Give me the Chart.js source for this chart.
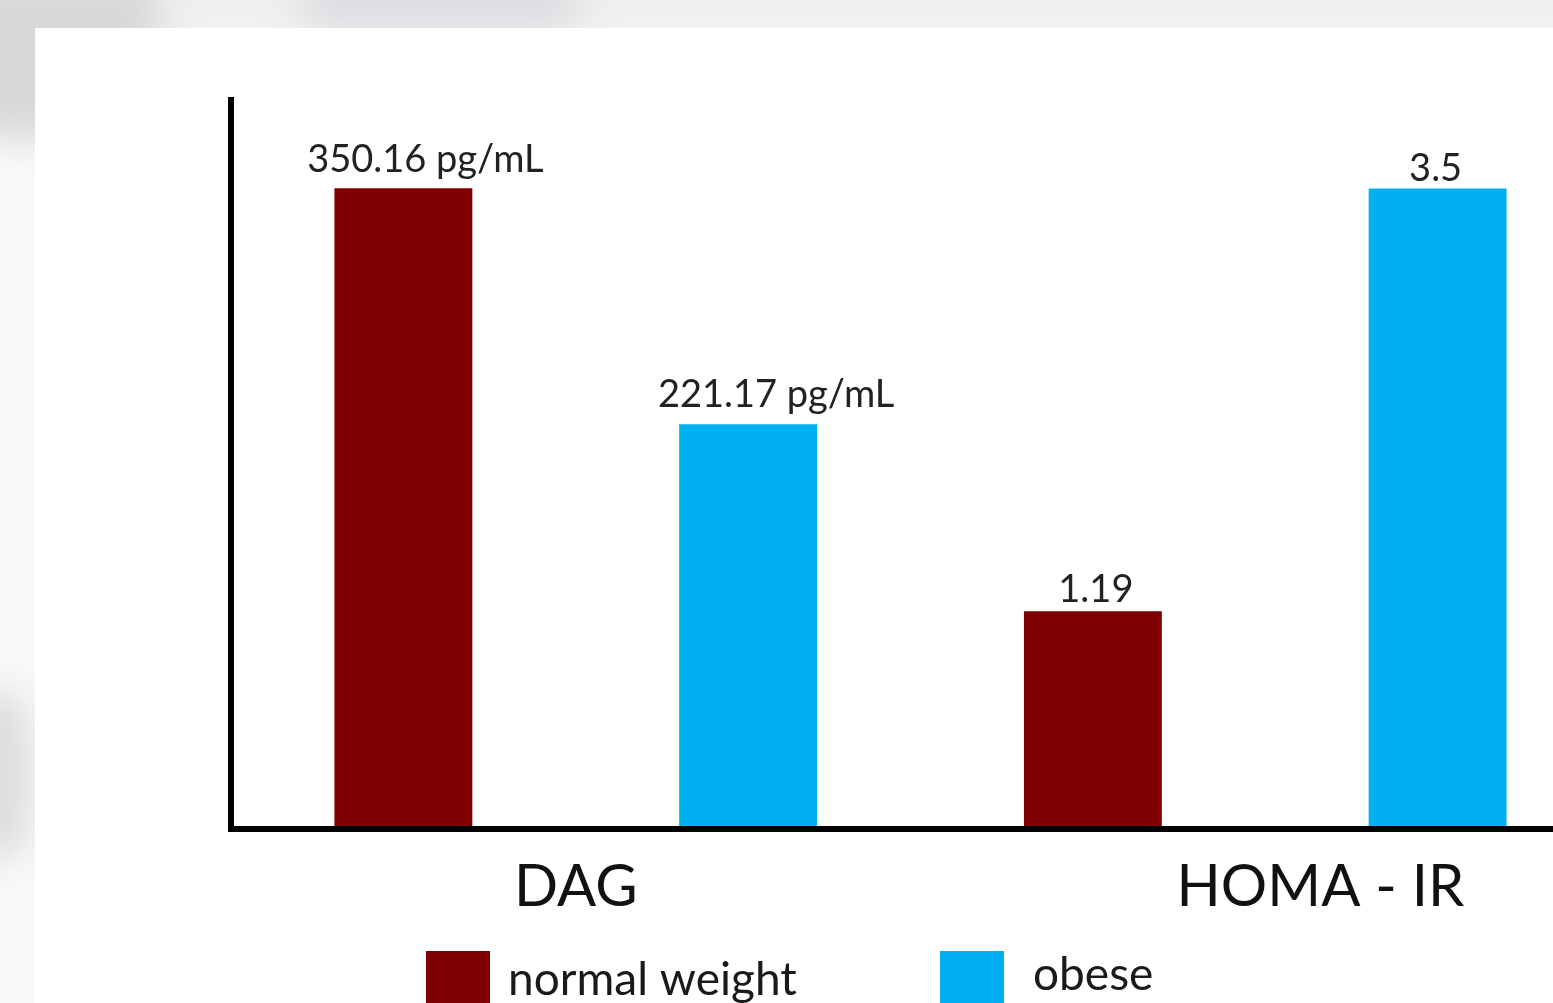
<!DOCTYPE html>
<html>
<head>
<meta charset="utf-8">
<title>DAG and HOMA-IR in normal weight vs obese</title>
<script src="https://cdn.jsdelivr.net/npm/chart.js@4"></script>
<style>
  html, body { margin: 0; padding: 0; }
  body {
    width: 1553px; height: 1003px; overflow: hidden; position: relative;
    background: #f9f9f9;
  }
  .smudge { position: absolute; filter: blur(18px); border-radius: 40px; }
  #panel { position: absolute; left: 35px; top: 28px; width: 1600px; height: 1000px; background: #ffffff; }
  #wrap { position: absolute; left: 0; top: 0; width: 1640px; height: 1003px; }
</style>
</head>
<body>
<div class="smudge" style="left:-40px;top:-40px;width:1700px;height:80px;background:#efefef;"></div>
<div class="smudge" style="left:-40px;top:-30px;width:200px;height:170px;background:#d6d9d6;"></div>
<div class="smudge" style="left:300px;top:-30px;width:280px;height:60px;background:#dcdde1;"></div>
<div class="smudge" style="left:-40px;top:690px;width:70px;height:170px;background:#dcdcdc;"></div>
<div id="panel"></div>
<div id="wrap"><canvas id="chart" width="1640" height="1003"></canvas></div>
<script>
// Measurements per group, one value per weight class
const groups = ['DAG', 'HOMA - IR'];
const seriesNames = ['normal weight', 'obese'];
const seriesColors = ['#7f0000', '#00b0f0'];
const dagValues = [350.16, 221.17];   // pg/mL
const homaValues = [1.19, 3.5];
const dagUnit = ' pg/mL';

// Each group gets its own value scale
const groupAxes = ['yDag', 'yHoma'];
const groupAxisMax = [400, 4];
const groupValues = [dagValues, homaValues];
const groupLabelText = [
  v => v.toFixed(2) + dagUnit,
  v => String(v)
];

// One slot on the x axis per bar (group × series)
const slots = [];
groups.forEach(g => seriesNames.forEach(s => slots.push(g + ' · ' + s)));

const datasets = [];
groups.forEach((g, gi) => {
  seriesNames.forEach((s, si) => {
    const data = slots.map(() => null);
    data[gi * seriesNames.length + si] = groupValues[gi][si];
    datasets.push({
      label: s,
      data: data,
      yAxisID: groupAxes[gi],
      backgroundColor: seriesColors[si],
      borderWidth: 0,
      grouped: false,
      barPercentage: 0.4,
      categoryPercentage: 1.0,
      valueText: groupLabelText[gi](groupValues[gi][si])
    });
  });
});

const FONT = 'Lato, "Open Sans", sans-serif';

// Thick black L-shaped axes
const axisLines = {
  id: 'axisLines',
  afterDatasetsDraw(chart) {
    const { ctx, chartArea: a } = chart;
    ctx.save();
    ctx.strokeStyle = '#000';
    ctx.lineWidth = 6;
    ctx.lineCap = 'butt';
    ctx.beginPath();
    ctx.moveTo(a.left, a.top);
    ctx.lineTo(a.left, a.bottom + 3);
    ctx.moveTo(a.left - 3, a.bottom);
    ctx.lineTo(chart.width, a.bottom);
    ctx.stroke();
    ctx.restore();
  }
};

// Value text above each bar
const valueLabels = {
  id: 'valueLabels',
  afterDatasetsDraw(chart, args, opts) {
    const { ctx } = chart;
    ctx.save();
    ctx.font = opts.font;
    ctx.fillStyle = opts.color;
    ctx.textAlign = 'center';
    ctx.textBaseline = 'alphabetic';
    chart.data.datasets.forEach((ds, di) => {
      const meta = chart.getDatasetMeta(di);
      meta.data.forEach((bar, i) => {
        if (ds.data[i] == null) return;
        const dx = opts.shiftX[di] || 0;
        const gap = opts.gap[di] || 10;
        ctx.fillText(ds.valueText, bar.x + dx, bar.y - gap);
      });
    });
    ctx.restore();
  }
};

// Group names under the x axis
const groupNames = {
  id: 'groupNames',
  afterDraw(chart, args, opts) {
    const { ctx } = chart;
    const x = chart.scales.x;
    ctx.save();
    ctx.font = opts.font;
    ctx.fillStyle = opts.color;
    ctx.textAlign = 'center';
    groups.forEach((g, i) => {
      ctx.fillText(g, x.getPixelForValue(opts.at[i]), chart.chartArea.bottom + opts.offset);
    });
    ctx.restore();
  }
};

// Legend with large square swatches
const swatchLegend = {
  id: 'swatchLegend',
  afterDraw(chart, args, opts) {
    const { ctx } = chart;
    ctx.save();
    ctx.font = opts.font;
    ctx.textAlign = 'left';
    seriesNames.forEach((name, i) => {
      const x0 = opts.x[i];
      ctx.fillStyle = seriesColors[i];
      ctx.fillRect(x0, opts.top, opts.box, opts.boxH);
      ctx.fillStyle = opts.color;
      ctx.fillText(name, x0 + opts.box + opts.textGap[i], opts.baseline[i]);
    });
    ctx.restore();
  }
};

new Chart(document.getElementById('chart'), {
  type: 'bar',
  data: { labels: slots, datasets: datasets },
  options: {
    responsive: false,
    animation: false,
    devicePixelRatio: 1,
    layout: { padding: { left: 231, right: 30, top: 97, bottom: 174 } },
    scales: {
      x: { type: 'category', display: false, offset: true, grid: { display: false } },
      yDag: { type: 'linear', display: false, min: 0, max: groupAxisMax[0], position: 'left' },
      yHoma: { type: 'linear', display: false, min: 0, max: groupAxisMax[1], position: 'left' }
    },
    plugins: {
      legend: { display: false },
      tooltip: { enabled: false },
      valueLabels: {
        font: '38px ' + FONT,
        color: '#222',
        shiftX: [22, 28, 3, -2],
        gap: [16, 17, 9, 8]
      },
      groupNames: {
        font: '58px ' + FONT,
        color: '#111',
        at: [0.5, 2.66],
        offset: 77
      },
      swatchLegend: {
        font: '46px ' + FONT,
        color: '#1a1a1a',
        x: [426, 940],
        top: 951,
        box: 64,
        boxH: 60,
        textGap: [18, 29],
        baseline: [995, 990]
      }
    }
  },
  plugins: [axisLines, valueLabels, groupNames, swatchLegend]
});
</script>
</body>
</html>
